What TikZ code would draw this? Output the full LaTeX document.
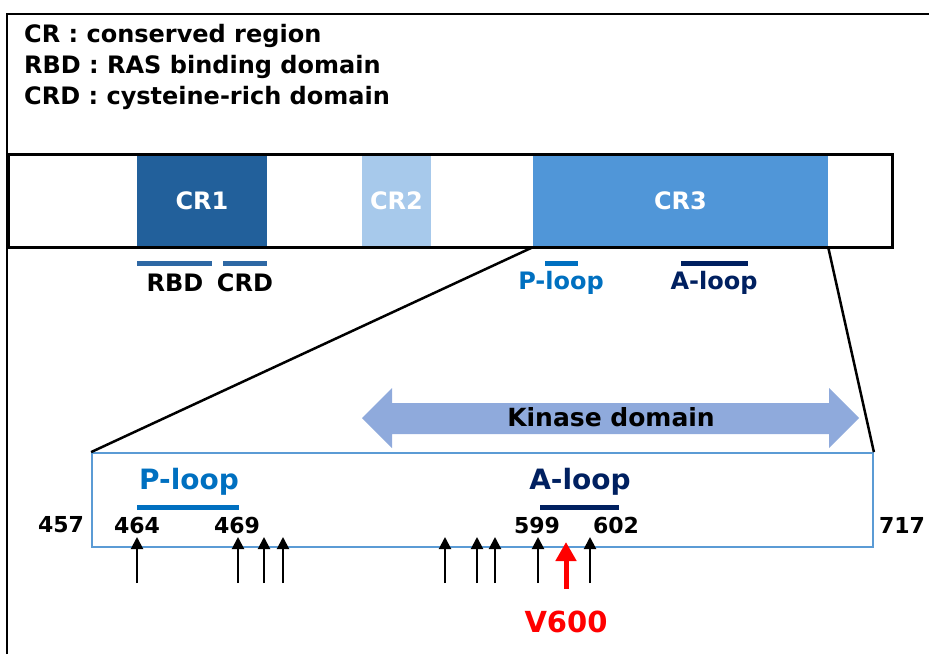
\documentclass[tikz,border=0pt]{standalone}
\usepackage{fontspec}
\setmainfont{DejaVu Sans}
\usetikzlibrary{positioning, arrows.meta}
\definecolor{crone}{HTML}{22609B}
\definecolor{crtwo}{HTML}{A7C9EB}
\definecolor{crthree}{HTML}{5096D8}
\definecolor{rbdblue}{HTML}{2E68A4}
\definecolor{ploopblue}{HTML}{0070C0}
\definecolor{aloopnavy}{HTML}{002060}
\definecolor{kinaseblue}{HTML}{8FAADC}
\definecolor{boxblue}{HTML}{5B9BD5}
\tikzset{
	crnode/.style={
			draw=none,
			text=white,
			font=\bfseries\fontsize{24}{27}\selectfont,
			inner sep=0pt,
			minimum height=92pt
		},
	barline/.style={
			line width=5pt
		},
	labelnode/.style={
			inner sep=0pt,
			font=\bfseries\fontsize{24}{27}\selectfont
		},
	numnode/.style={
			inner sep=0pt,
			font=\bfseries\fontsize{22}{25}\selectfont
		},
	zoomline/.style={
			line width=2.5pt,
			black
		},
	sitearrow/.style={
			line width=2pt,
			-{Triangle[length=12pt,width=12pt]}
		},
	mutarrow/.style={
			line width=5pt,
			red,
			-{Triangle[length=19pt,width=20pt]}
		}
}

\begin{document}
\begin{tikzpicture}[x=1pt, y=-1pt]
\useasboundingbox (0,0) rectangle (929,654);
% frame
\draw[line width=2pt] (7,654) -- (7,14) -- (929,14);

% legend
\node[labelnode, anchor=west] (leg1) at (24,36) {CR : conserved region};
\node[labelnode, anchor=west] (leg2) at (24,67) {RBD : RAS binding domain};
\node[labelnode, anchor=west] (leg3) at (24,98) {CRD : cysteine-rich domain};

% full protein
\node[crnode, fill=crone, minimum width=130pt] (cr1) at (202,201) {CR1};
\node[crnode, fill=crtwo, minimum width=69pt] (cr2) at (396.5,201) {CR2};
\node[crnode, fill=crthree, minimum width=295pt] (cr3) at (680.5,201) {CR3};
\node[draw, line width=2.5pt, minimum width=884pt, minimum height=93pt, inner sep=0pt] (bar) at (450.5,201) {};

\draw[barline, rbdblue] (137,263) -- (212,263);
\draw[barline, rbdblue] (223,263) -- (267,263);
\draw[barline, ploopblue] (545,263) -- (578,263);
\draw[barline, aloopnavy] (681,263) -- (748,263);
\node[labelnode] (rbd) at (175,283) {RBD};
\node[labelnode] (crd) at (245,283) {CRD};
\node[labelnode, ploopblue] (pl1) at (561,283) {P-loop};
\node[labelnode, aloopnavy] (al1) at (714,283) {A-loop};

% kinase domain
\fill[kinaseblue] (362,418) -- (392,388) -- (392,403) -- (829,403) -- (829,388)
  -- (859,418) -- (829,448) -- (829,434) -- (392,434) -- (392,448) -- cycle;
\node[labelnode, font=\bfseries\fontsize{25}{28}\selectfont] (kin) at (611,417) {Kinase domain};

% zoomed region
\node[draw=boxblue, line width=1.8pt, minimum width=781pt, minimum height=94pt, inner sep=0pt] (kbox) at (482.5,500) {};
\draw[zoomline] (cr3.south west) -- (kbox.north west);
\draw[zoomline] (cr3.south east) -- (kbox.north east);

\node[labelnode, ploopblue, font=\bfseries\fontsize{28}{31}\selectfont] (pl2) at (189,482) {P-loop};
\node[labelnode, aloopnavy, font=\bfseries\fontsize{28}{31}\selectfont] (al2) at (580,482) {A-loop};
\draw[barline, ploopblue] (137,507) -- (239,507);
\draw[barline, aloopnavy] (540,507) -- (619,507);

\node[numnode] (n457) at (61,525) {457};
\node[numnode] (n464) at (137,525) {464};
\node[numnode] (n469) at (237,525) {469};
\node[numnode] (n599) at (537,525) {599};
\node[numnode] (n602) at (616,525) {602};
\node[numnode] (n717) at (902,525) {717};

% mutation sites
\foreach \x [count=\i] in {137,238,264,283,445,477,495,538,590} {
  \coordinate (s\i) at (\x,583);
  \draw[sitearrow] (s\i) -- ++(0,-46);
}
\coordinate (v600) at (566,589);
\draw[mutarrow] (v600) -- ++(0,-47);
\node[labelnode, red, font=\bfseries\fontsize{29}{33}\selectfont] (v600lab) at (566,622) {V600};
\end{tikzpicture}
\end{document}
